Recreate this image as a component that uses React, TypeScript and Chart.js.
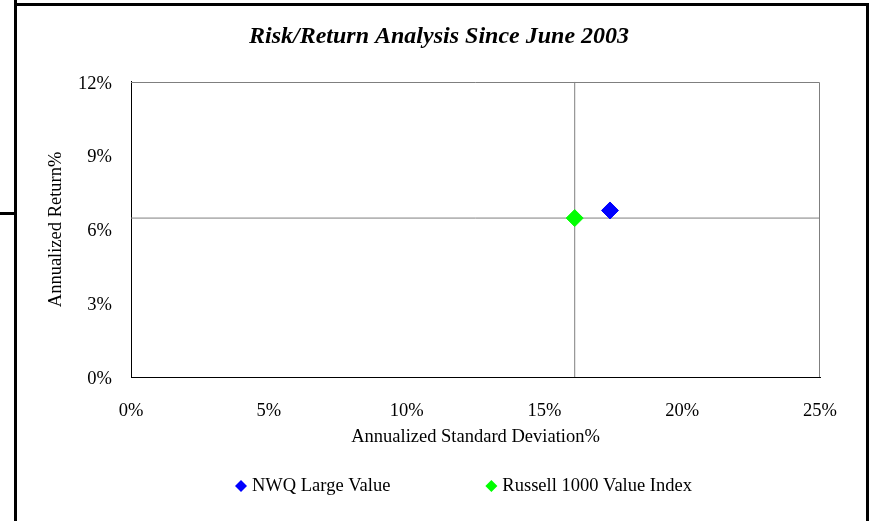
import React, { useEffect, useRef } from 'react';
import { Chart, registerables } from 'chart.js';

Chart.register(...registerables);

const chartTitle = 'Risk/Return Analysis Since June 2003';
const xAxisTitle = 'Annualized Standard Deviation%';
const yAxisTitle = 'Annualized Return%';
const seriesNames = ['NWQ Large Value', 'Russell 1000 Value Index'];
const stdDevs = [17.38, 16.1];
const returns = [6.77, 6.46];
const seriesColors = ['#0000FF', '#00FF00'];
const xTickValues = [0, 5, 10, 15, 20, 25];
const yTickValues = [0, 3, 6, 9, 12];
const benchmarkIndex = 1;

const FONT = "'Liberation Serif', 'Times New Roman', serif";
const GRAY = '#7f7f7f';

const framePlugin = {
  id: 'pageFrame',
  afterDraw(chart: any) {
    const ctx = chart.ctx;
    ctx.save();
    ctx.fillStyle = '#000';
    ctx.fillRect(14, 3, 855, 3);
    ctx.fillRect(14, 0, 3, 521);
    ctx.fillRect(866, 3, 3, 518);
    ctx.fillRect(0, 212, 14, 3);
    ctx.restore();
  },
};

const plotBoxPlugin = {
  id: 'plotBox',
  beforeDatasetsDraw(chart: any) {
    const { ctx, chartArea } = chart;
    const { left, right, top, bottom } = chartArea;
    ctx.save();
    ctx.strokeStyle = GRAY;
    ctx.lineWidth = 1;
    ctx.beginPath();
    ctx.moveTo(left, Math.round(top) + 0.5);
    ctx.lineTo(Math.round(right) - 0.5, Math.round(top) + 0.5);
    ctx.lineTo(Math.round(right) - 0.5, bottom);
    ctx.stroke();
    ctx.restore();
  },
};

const legendPlugin = {
  id: 'customLegend',
  afterDraw(chart: any, _args: any, opts: any) {
    const ctx = chart.ctx;
    ctx.save();
    ctx.font = `${opts.fontSize}px ${FONT}`;
    ctx.textBaseline = 'middle';
    ctx.textAlign = 'left';
    let x = opts.startX;
    const y = opts.y;
    const r = opts.markerRadius;
    chart.data.datasets.forEach((ds: any) => {
      if (!ds.inLegend) return;
      ctx.fillStyle = ds.backgroundColor;
      ctx.beginPath();
      ctx.moveTo(x + r, y - r);
      ctx.lineTo(x + 2 * r, y);
      ctx.lineTo(x + r, y + r);
      ctx.lineTo(x, y);
      ctx.closePath();
      ctx.fill();
      const tx = x + 2 * r + opts.textGap;
      ctx.fillStyle = '#000';
      ctx.fillText(ds.label, tx, y);
      x = tx + ctx.measureText(ds.label).width + opts.itemGap;
    });
    ctx.restore();
  },
};

export default function App() {
  const ref = useRef<HTMLCanvasElement>(null);

  useEffect(() => {
    if (!ref.current) return;
    const pointSets = seriesNames.map((name, i) => ({
      label: name,
      inLegend: true,
      data: [{ x: stdDevs[i], y: returns[i] }],
      backgroundColor: seriesColors[i],
      borderColor: seriesColors[i],
      borderWidth: 1,
      pointStyle: 'rectRot',
      pointRadius: 8.5,
      showLine: false,
    }));
    const xMin = xTickValues[0];
    const xMax = xTickValues[xTickValues.length - 1];
    const yMin = yTickValues[0];
    const yMax = yTickValues[yTickValues.length - 1];
    const crossSets = [
      {
        label: 'vline',
        inLegend: false,
        data: [
          { x: stdDevs[benchmarkIndex], y: yMin },
          { x: stdDevs[benchmarkIndex], y: yMax },
        ],
        borderColor: GRAY,
        backgroundColor: GRAY,
        borderWidth: 1,
        pointRadius: 0,
        showLine: true,
      },
      {
        label: 'hline',
        inLegend: false,
        data: [
          { x: xMin, y: returns[benchmarkIndex] },
          { x: xMax, y: returns[benchmarkIndex] },
        ],
        borderColor: GRAY,
        backgroundColor: GRAY,
        borderWidth: 1,
        pointRadius: 0,
        showLine: true,
      },
    ];

    const chart = new Chart(ref.current, {
      type: 'scatter',
      data: { datasets: [...pointSets, ...crossSets] as any },
      options: {
        responsive: false,
        animation: false,
        events: [],
        layout: { padding: { left: 5, right: 0, top: 0, bottom: 72 } },
        plugins: {
          legend: { display: false },
          tooltip: { enabled: false },
          title: {
            display: true,
            text: chartTitle,
            color: '#000',
            font: { family: FONT, size: 24, weight: 'bold', style: 'italic' },
            padding: { top: 22, bottom: 31 },
          },
          customLegend: {
            startX: 235,
            y: 486,
            markerRadius: 6,
            textGap: 5,
            itemGap: 95,
            fontSize: 18.5,
          },
        } as any,
        scales: {
          x: {
            type: 'linear',
            min: xMin,
            max: xMax,
            grid: { display: false, drawTicks: false },
            border: { display: true, color: '#000', width: 1 },
            ticks: {
              stepSize: 5,
              padding: 23,
              color: '#000',
              font: { family: FONT, size: 18.5 },
              maxRotation: 0,
              callback: (v: any) => `${v}%`,
            },
            title: {
              display: true,
              text: xAxisTitle,
              color: '#000',
              font: { family: FONT, size: 18.5 },
              padding: { top: 0, bottom: 1 },
            },
            afterFit: (s: any) => {
              s.height = 72;
            },
          },
          y: {
            type: 'linear',
            position: 'left',
            min: yMin,
            max: yMax,
            grid: { display: false, drawTicks: false },
            border: { display: true, color: '#000', width: 1 },
            ticks: {
              stepSize: 3,
              padding: 19,
              labelOffset: 2,
              color: '#000',
              font: { family: FONT, size: 18.5 },
              callback: (v: any) => `${v}%`,
            },
            title: {
              display: true,
              text: yAxisTitle,
              color: '#000',
              font: { family: FONT, size: 18.5 },
              padding: { top: 40, bottom: 0 },
            },
            afterFit: (s: any) => {
              s.width = 126;
            },
          },
          yRight: {
            type: 'linear',
            position: 'right',
            display: true,
            grid: { display: false, drawTicks: false },
            border: { display: false },
            ticks: { display: false },
            afterFit: (s: any) => {
              s.width = 53;
            },
          },
        },
      } as any,
      plugins: [plotBoxPlugin, legendPlugin, framePlugin],
    });
    return () => chart.destroy();
  }, []);

  return (
    <div style={{ position: 'fixed', left: 0, top: 0, width: 873, height: 521, background: '#fff' }}>
      <canvas ref={ref} width={873} height={521} style={{ display: 'block' }} />
    </div>
  );
}
